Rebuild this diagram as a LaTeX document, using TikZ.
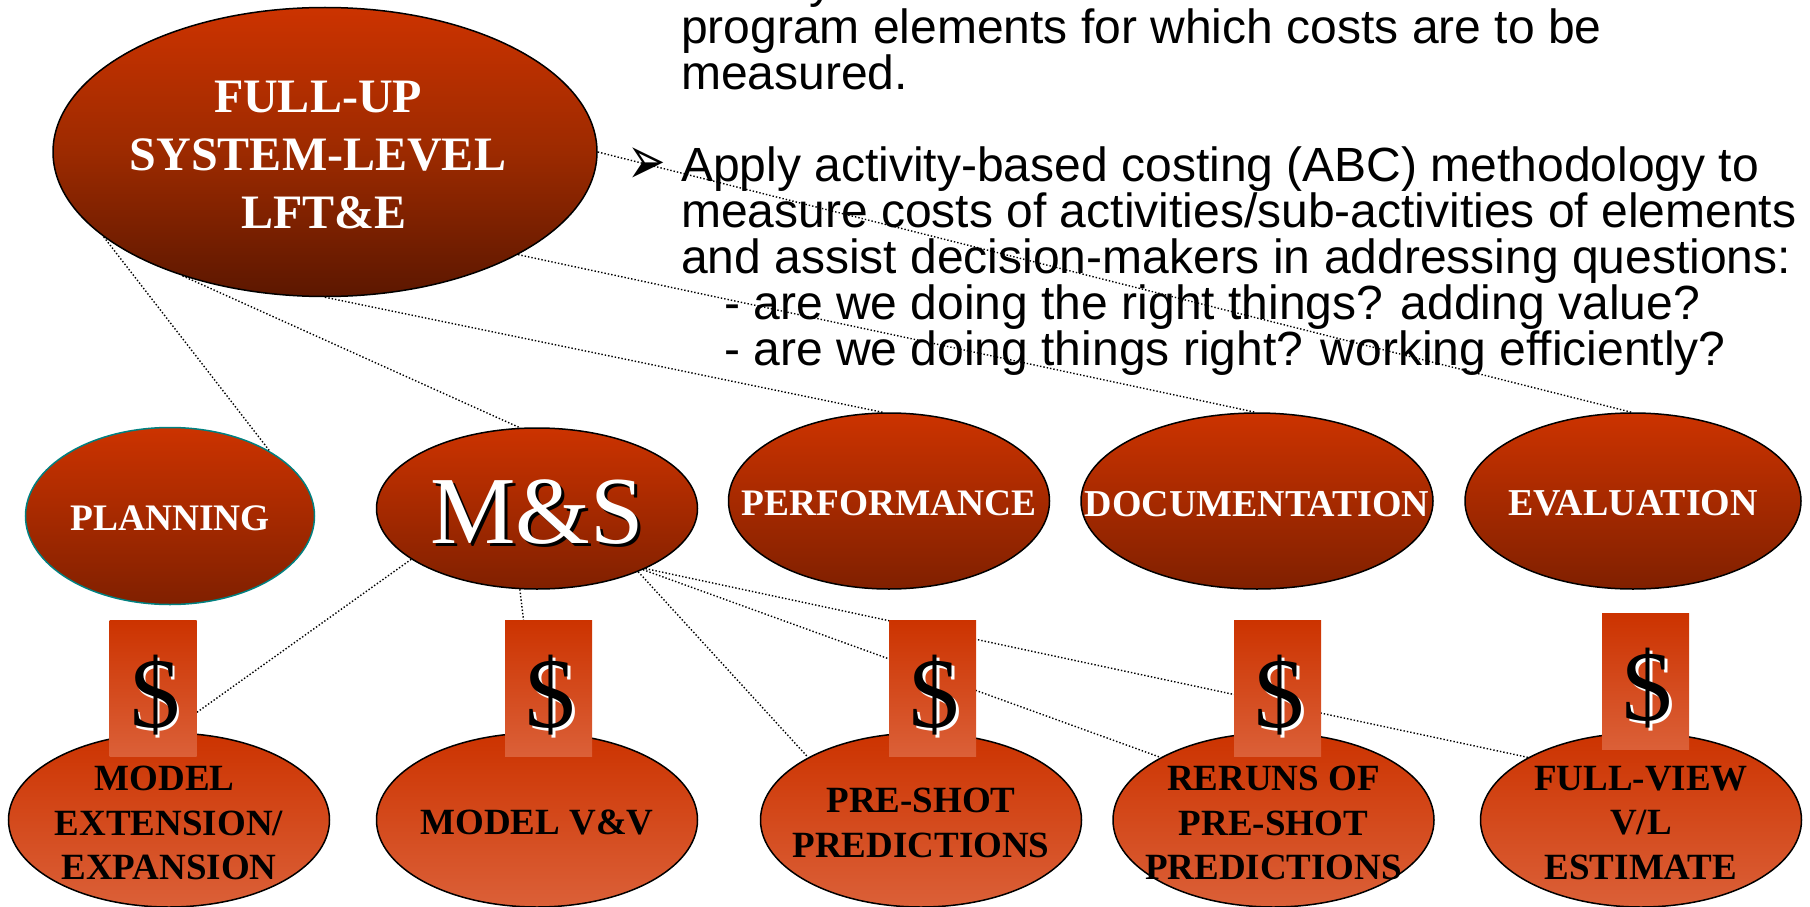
\documentclass[tikz,border=0pt]{standalone}
\usepackage{fontspec}
\setmainfont{Liberation Serif}
\newfontfamily\arialfont{Liberation Sans}
\newfontfamily\bulletfont{DejaVu Sans}
\usepackage{tikz}
\usetikzlibrary{shapes.geometric}
\definecolor{rust}{HTML}{CC3300}
\definecolor{rustdeep}{HTML}{9C2A00}
\definecolor{rustdark}{HTML}{5C1700}
\definecolor{rustmid}{HTML}{802000}
\definecolor{rustlight}{HTML}{DB6038}
\tikzstyle{oval} = [ellipse, inner sep=-70pt, draw=black, line width=1.5pt, align=center]
\tikzstyle{bigoval} = [oval, minimum width=544pt, minimum height=289pt, top color=rust, bottom color=rustdark, middle color=rustdeep]
\tikzstyle{biglabel} = [inner sep=0pt, align=center, text=white, font=\fontsize{48}{58}\selectfont\bfseries]
\tikzstyle{midoval} = [oval, minimum width=321pt, minimum height=176pt, top color=rust, bottom color=rustmid, text=white, font=\fontsize{38}{45}\selectfont\bfseries, execute at begin node={\rule{0pt}{0.8em}}]
\tikzstyle{msoval} = [oval, minimum width=321pt, minimum height=161pt, top color=rust, bottom color=rustmid, text=white, font=\fontsize{96}{96}\selectfont, execute at begin node={\rule{0pt}{0.78em}}]
\tikzstyle{lowoval} = [oval, minimum width=321pt, minimum height=174pt, top color=rust, bottom color=rustlight, text=black, font=\fontsize{37}{44.5}\selectfont\bfseries, execute at begin node={\rule{0pt}{0.8em}}]
\tikzstyle{lowlabel} = [inner sep=0pt, align=center, text=black, font=\fontsize{37}{44.5}\selectfont\bfseries]
\tikzstyle{cost} = [rectangle, inner sep=0pt, minimum width=87pt, minimum height=136pt, top color=rust, bottom color=rustlight, font=\fontsize{100}{100}\selectfont, execute at begin node={\rule{0pt}{0.89em}}]
\tikzstyle{link} = [dotted, line width=1.4pt]
\newcommand{\dollar}{\hspace{4pt}\rlap{\hspace{2.5pt}\raisebox{-3pt}{\color{white}\$}}\$}
\begin{document}
\begin{tikzpicture}[x=1pt,y=-1pt]
\useasboundingbox (0,0) rectangle (1810,907);
% text on the right
\node (notes) [anchor=north west, inner sep=0pt, align=left, font=\arialfont\fontsize{48}{46}\selectfont] at (681,-28) {
\hspace*{128pt}y\\
program elements for which costs are to be\\
measured.\\
\\
Apply activity-based costing (ABC) methodology to\\
measure costs of activities/sub-activities of elements\\
and assist decision-makers in addressing questions:\\
\hspace*{43pt}- are we doing the right things? adding value?\\
\hspace*{43pt}- are we doing things right? working efficiently?};
\node (bullet) [inner sep=0pt, font=\bulletfont\fontsize{46}{46}\selectfont] at (647,166) {\scalebox{1}[1.5]{➢}};
% top
\node (fullup) [bigoval] at (325,152) {};
\node (fulluplabel) [biglabel] at (318,155) {FULL-UP\\SYSTEM-LEVEL\\\hspace*{12pt}LFT\&E};
% middle row
\node (planning) [midoval, draw=teal, minimum width=289pt, minimum height=177pt, font=\fontsize{37.4}{45}\selectfont\bfseries] at (170,516) {PLANNING};
\node (ms) [msoval] at (537,508.5) {\rlap{\hspace{3pt}\raisebox{-3pt}{\color{black}M\&S}}M\&S};
\node (performance) [midoval, font=\fontsize{37.4}{45}\selectfont\bfseries] at (889,501) {PERFORMANCE};
\node (documentation) [midoval, minimum width=352pt] at (1257,501) {DOCUMENTATION};
\node (evaluation) [midoval, minimum width=336pt] at (1633,501) {EVALUATION};
% bottom row
\node (modelext) [lowoval] at (169,820) {};
\node (modelextlabel) [lowlabel] at (169,823) {MODEL\hspace*{9pt}\\EXTENSION/\\EXPANSION};
\node (modelvv) [lowoval] at (537,820) {MODEL V\&V};
\node (preshot) [lowoval] at (921,820) {};
\node (preshotlabel) [lowlabel] at (921,823) {PRE-SHOT\\PREDICTIONS};
\node (reruns) [lowoval] at (1273.5,820) {};
\node (rerunslabel) [lowlabel] at (1273.5,823) {RERUNS OF\\PRE-SHOT\\PREDICTIONS};
\node (fullview) [lowoval] at (1641,820) {};
\node (fullviewlabel) [lowlabel] at (1641,823) {FULL-VIEW\\V/L\\ESTIMATE};
% links
\draw [link] (fullup.201) -- (planning.33);
\draw [link] (fullup.221) -- (ms.102);
\draw [link] (fullup.270) -- (performance.94);
\draw [link] (fullup.-28) -- (documentation.91);
\draw [link] (fullup.0) -- (evaluation.91);
\draw [link] (ms.202) -- (modelext.north);
\draw [link] (ms.258) -- (modelvv.north);
\draw [link] (ms.-32) -- (preshot.151);
\draw [link] (ms.-30) -- (reruns.151);
\draw [link] (ms.-29) -- (fullview.151);
% cost tags
\node (costa) [cost] at (153,688) {\dollar};
\node (costb) [cost] at (548.5,688) {\dollar};
\node (costc) [cost] at (932.5,688) {\dollar};
\node (costd) [cost] at (1277.5,688) {\dollar};
\node (coste) [cost] at (1645.5,681.5) {\dollar};
\end{tikzpicture}
\end{document}
